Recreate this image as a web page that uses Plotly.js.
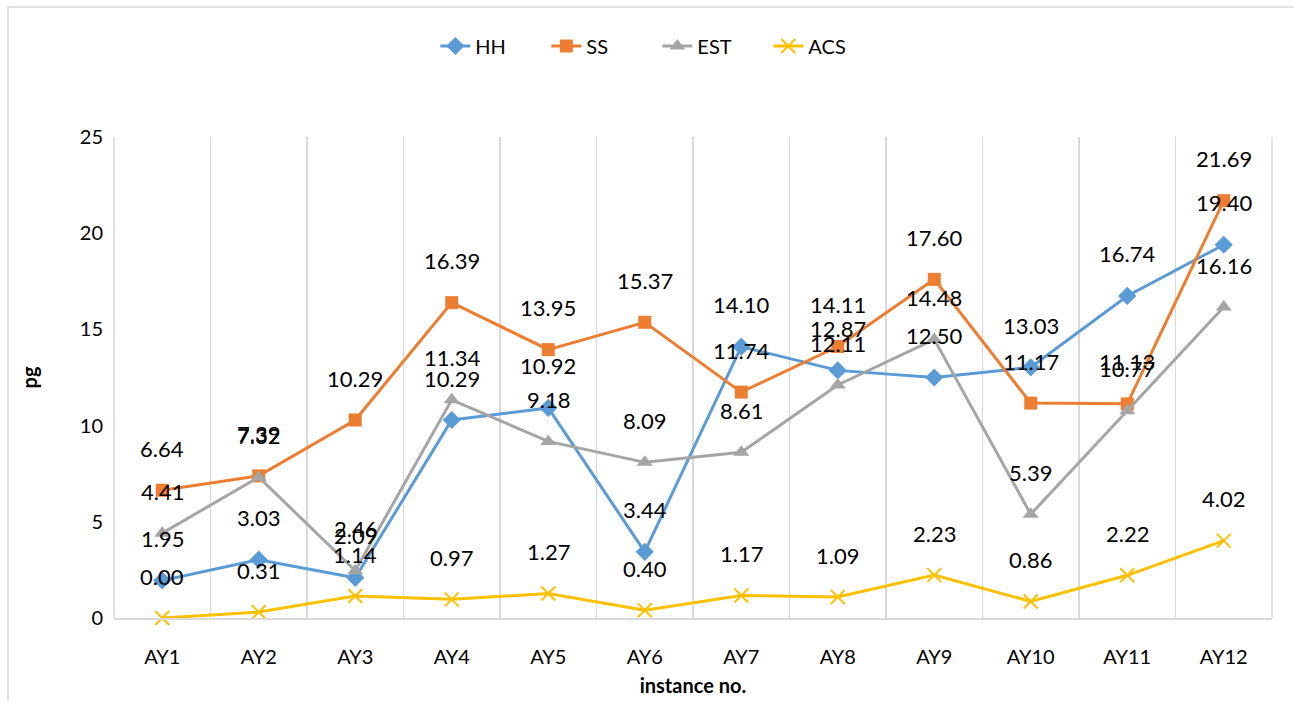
<!DOCTYPE html>
<html>
<head>
<meta charset="utf-8">
<script src="https://cdn.plot.ly/plotly-3.0.1.min.js"></script>
<style>
  html, body { margin: 0; padding: 0; background: #fff; overflow: hidden; }
  #chart { width: 1294px; height: 701px; }
</style>
</head>
<body>
<div id="chart"></div>
<script>
// Categories and per-instance values (pg)
const instances = ["AY1","AY2","AY3","AY4","AY5","AY6","AY7","AY8","AY9","AY10","AY11","AY12"];
const hh  = [1.95, 3.03, 2.09, 10.29, 10.92, 3.44, 14.10, 12.87, 12.50, 13.03, 16.74, 19.40];
const ss  = [6.64, 7.39, 10.29, 16.39, 13.95, 15.37, 11.74, 14.11, 17.60, 11.17, 11.13, 21.69];
const est = [4.41, 7.32, 2.46, 11.34, 9.18, 8.09, 8.61, 12.11, 14.48, 5.39, 10.77, 16.16];
const acs = [0.00, 0.31, 1.14, 0.97, 1.27, 0.40, 1.17, 1.09, 2.23, 0.86, 2.22, 4.02];

const FONT = "Lato, 'Open Sans', sans-serif";

const series = [
  { name: "HH",  y: hh,  color: "#5B9BD5", symbol: "diamond",     size: 14 },
  { name: "SS",  y: ss,  color: "#ED7D31", symbol: "square",      size: 13 },
  { name: "EST", y: est, color: "#A5A5A5", symbol: "triangle-up", size: 14 },
  { name: "ACS", y: acs, color: "#FFC000", symbol: "x-thin-open", size: 14 }
];

const traces = series.map(s => ({
  type: "scatter",
  mode: "lines+markers",
  name: s.name,
  x: instances,
  y: s.y,
  line: { color: s.color, width: 3 },
  marker: {
    color: s.color,
    symbol: s.symbol,
    size: s.size,
    line: { color: s.color, width: s.symbol === "x-thin-open" ? 2 : 0 }
  },
  cliponaxis: false
}));

// Value labels above each point
const annotations = [];
series.forEach(s => {
  s.y.forEach((v, i) => {
    annotations.push({
      x: instances[i], y: v, xref: "x", yref: "y",
      text: v.toFixed(2), showarrow: false,
      yshift: 42, font: { family: FONT, size: 22, color: "#000" }
    });
  });
});

const GRID = "#D9D9D9";

const layout = {
  width: 1294, height: 701,
  margin: { l: 114, r: 22, t: 137, b: 83, autoexpand: false },
  paper_bgcolor: "#fff", plot_bgcolor: "#fff",
  font: { family: FONT, size: 20, color: "#000" },
  showlegend: true,
  legend: {
    orientation: "h", x: 0.508, xanchor: "center", xref: "container",
    y: 1 - 46 / 701, yref: "container", yanchor: "middle",
    font: { family: FONT, size: 20, color: "#000" },
    entrywidth: 66, entrywidthmode: "pixels",
    traceorder: "normal"
  },
  xaxis: {
    type: "category",
    range: [-0.5, instances.length - 0.5],
    automargin: false,
    tickson: "boundaries",
    showgrid: true, gridcolor: GRID, gridwidth: 1.5,
    showline: true, linecolor: GRID, linewidth: 1.5,
    ticks: "", ticklen: 0, ticklabelstandoff: 20,
    tickfont: { family: FONT, size: 20, color: "#000" },
    title: { text: "instance no.", font: { family: FONT, size: 20, color: "#000", weight: "bold" }, standoff: 12 },
    zeroline: false
  },
  yaxis: {
    automargin: false,
    range: [0, 25], dtick: 5,
    showgrid: false, zeroline: false, showline: false,
    ticks: "", ticklabelstandoff: 10,
    tickfont: { family: FONT, size: 20, color: "#000" },
    title: { text: "pg", font: { family: FONT, size: 20, color: "#000", weight: "bold" }, standoff: 36 }
  },
  annotations: annotations,
  shapes: [
    // chart-area border
    { type: "rect", xref: "paper", yref: "paper",
      x0: -106 / 1158, x1: 1.2, y0: -0.3, y1: (701 - 137 - 83 + 130) / 481,
      line: { color: GRID, width: 1.5 }, fillcolor: "rgba(0,0,0,0)", layer: "below" },
    // outer category boundaries of the plot area
    { type: "line", xref: "paper", yref: "paper", x0: 0, x1: 0, y0: 0, y1: 1,
      line: { color: GRID, width: 1.5 }, layer: "below" },
    { type: "line", xref: "paper", yref: "paper", x0: 1, x1: 1, y0: 0, y1: 1,
      line: { color: GRID, width: 1.5 }, layer: "below" }
  ]
};

Plotly.newPlot("chart", traces, layout, { displayModeBar: false, staticPlot: true });
</script>
</body>
</html>
